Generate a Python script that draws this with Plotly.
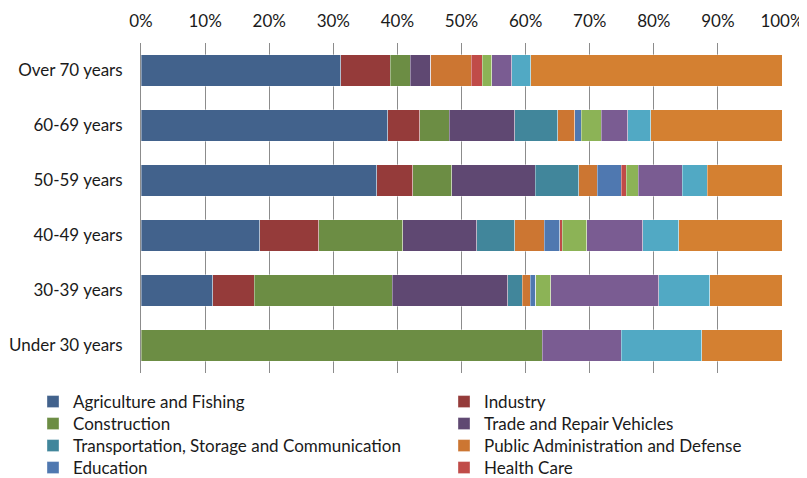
import plotly.graph_objects as go

categories = ["Over 70 years", "60-69 years", "50-59 years", "40-49 years", "30-39 years", "Under 30 years"]

series_names = [
    "Agriculture and Fishing", "Industry", "Construction", "Trade and Repair Vehicles",
    "Transportation, Storage and Communication", "Public Administration and Defense",
    "Education", "Health Care", "Other 1", "Other 2", "Other 3", "Other 4",
]

agriculture = [31.2, 38.5, 36.8, 18.5, 11.2, 0.0]
industry = [7.7, 5.0, 5.6, 9.2, 6.5, 0.0]
construction = [3.1, 4.6, 6.1, 13.1, 21.5, 62.6]
trade = [3.2, 10.2, 13.0, 11.6, 18.0, 0.0]
transport = [0.0, 6.7, 6.8, 5.9, 2.3, 0.0]
public_admin = [6.3, 2.7, 2.9, 4.6, 1.2, 0.0]
education = [0.0, 1.0, 3.7, 2.4, 0.9, 0.0]
health = [1.7, 0.0, 0.8, 0.4, 0.0, 0.0]
other1 = [1.5, 3.1, 1.9, 3.8, 2.3, 0.0]
other2 = [3.1, 4.1, 6.8, 8.8, 16.9, 12.3]
other3 = [3.0, 3.6, 3.9, 5.6, 7.9, 12.6]
other4 = [39.2, 20.5, 11.7, 16.1, 11.3, 12.5]

values = [agriculture, industry, construction, trade, transport, public_admin,
          education, health, other1, other2, other3, other4]

tick_vals = [0, 10, 20, 30, 40, 50, 60, 70, 80, 90, 100]
tick_text = ["0%", "10%", "20%", "30%", "40%", "50%", "60%", "70%", "80%", "90%", "100%"]

colors = ["#42628C", "#953B3A", "#6C8D44", "#5F4872", "#41869B", "#CC7632",
          "#4F78B0", "#C04B48", "#8CB356", "#7A5C92", "#51A9C4", "#D48031"]

# the page body adds an 8px offset; figure coordinates = page coordinates - 8
OFF = 8
plot_left, plot_w = 141 - OFF, 641
plot_top, plot_h = 43 - OFF, 330

def px_x(page_px):
    return (page_px - OFF - plot_left) / plot_w

def px_y(page_py):
    return (plot_top + plot_h - (page_py - OFF)) / plot_h

legend_ids = ["legend", "legend2", "legend3", "legend4", "legend5", "legend6", "legend7", "legend8"]
col_left = [33, 444]          # page x of each legend column
row_center = [401, 423, 445, 467]  # page y of each legend row

fig = go.Figure()
for i, (name, vals, col) in enumerate(zip(series_names, values, colors)):
    fig.add_trace(go.Bar(
        y=categories, x=vals, name=name, orientation="h",
        marker=dict(color=col, line=dict(color="rgba(255,255,255,0.6)", width=0.6)),
        showlegend=i < 8,
        legend=legend_ids[i] if i < 8 else "legend",
    ))

legend_layout = {}
for i, lid in enumerate(legend_ids):
    legend_layout[lid] = dict(
        orientation="v", xanchor="left", yanchor="top",
        x=px_x(col_left[i % 2]), y=px_y(row_center[i // 2] - 17),
        font=dict(size=17, color="#1a1a1a"),
        itemwidth=30, bgcolor="rgba(0,0,0,0)",
    )

fig.update_layout(
    barmode="stack",
    width=807 - OFF, height=478 - OFF,
    margin=dict(l=plot_left, r=807 - OFF - plot_left - plot_w, t=plot_top,
                b=478 - OFF - plot_top - plot_h, autoexpand=False),
    plot_bgcolor="white", paper_bgcolor="white",
    bargap=0.43,
    font=dict(family="Lato, Liberation Sans, sans-serif", size=17, color="#1a1a1a"),
    xaxis=dict(
        side="top", range=[0, 100], tickvals=tick_vals, ticktext=tick_text,
        showgrid=True, gridcolor="#8c8c8c", gridwidth=1, zeroline=False,
        showline=False, ticks="", tickfont=dict(size=17), ticklabelstandoff=12,
    ),
    yaxis=dict(
        categoryorder="array", categoryarray=categories, autorange="reversed",
        showline=True, linecolor="#8c8c8c", linewidth=1, ticks="",
        tickfont=dict(size=17), ticklabelstandoff=14,
    ),
    **legend_layout,
)

fig.write_html("out.html")
